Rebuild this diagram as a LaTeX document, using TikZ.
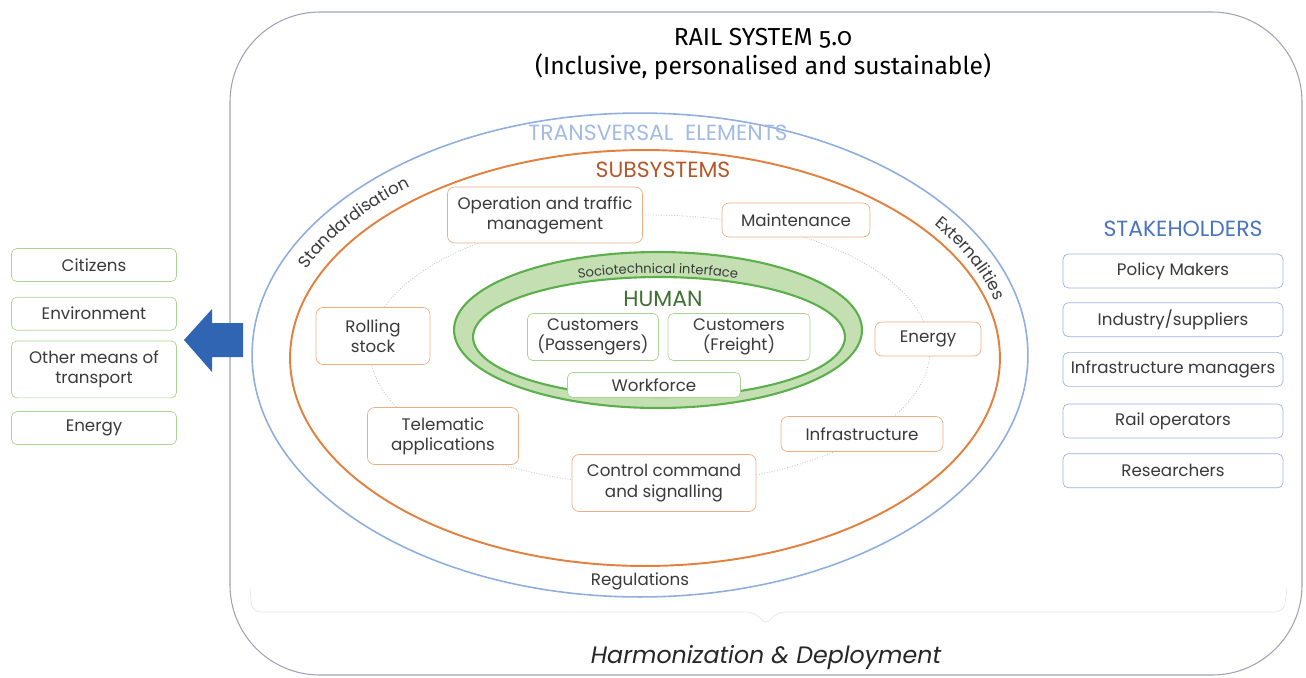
\documentclass[tikz,border=0pt]{standalone}
\usepackage{fontspec}
\setmainfont{Poppins}
\newfontfamily\titlefont[Numbers=OldStyle]{Fira Sans}
\usetikzlibrary{positioning,decorations.text}

\definecolor{subOrange}{HTML}{E2803F}
\definecolor{subBoxOrange}{HTML}{EDAE84}
\definecolor{subTitle}{HTML}{B3582C}
\definecolor{transBlue}{HTML}{8FAEDD}
\definecolor{transText}{HTML}{A3BBE3}
\definecolor{stakeBlue}{HTML}{4A74C2}
\definecolor{stakeBox}{HTML}{9DB1DF}
\definecolor{humGreen}{HTML}{5DAF4E}
\definecolor{humBand}{HTML}{C4E0B3}
\definecolor{humText}{HTML}{3F6F33}
\definecolor{humBox}{HTML}{ACD396}
\definecolor{arrowBlue}{HTML}{2F65B2}
\definecolor{frameGray}{HTML}{A0A2B5}
\definecolor{txtGray}{HTML}{3A3A3A}

\newcommand{\boxfont}{\fontsize{9.5}{11.5}\selectfont}
\newcommand{\headfont}{\fontsize{12.5}{14}\selectfont}

\tikzstyle{subNode} = [rectangle, rounded corners=4pt, draw=subBoxOrange, fill=white, text=txtGray, align=center, font=\boxfont, inner sep=1pt]
\tikzstyle{humNode} = [rectangle, rounded corners=3pt, draw=humBox, fill=white, text=txtGray, align=center, font=\boxfont, inner sep=1pt]
\tikzstyle{extNode} = [rectangle, rounded corners=3pt, draw=humBox, fill=white, text=txtGray, align=center, font=\boxfont, minimum width=3.3cm, minimum height=0.66cm, inner sep=1pt]
\tikzstyle{stakeNode} = [rectangle, rounded corners=3pt, draw=stakeBox, fill=white, text=txtGray, align=center, font=\boxfont, minimum width=4.4cm, minimum height=0.68cm, inner sep=1pt]
\tikzstyle{arcLabel} = [font=\boxfont, text=txtGray]

\begin{document}
\begin{tikzpicture}[x=0.02cm, y=-0.02cm, node distance=0.3cm]
    \useasboundingbox (0,0) rectangle (1306,677);
    \draw [frameGray, line width=0.6pt, rounded corners=1.8cm] (230,12) rectangle (1302,675);
    \draw [gray!20, rounded corners=5pt] (250,588) -- (252,612) -- (756,612) -- (766,626) -- (776,612) -- (1284,612) -- (1287,588);

    \draw [transBlue, line width=0.9pt] (640,355) ellipse [x radius=7.76cm, y radius=4.84cm];
    \draw [subOrange, line width=1.1pt] (645,358) ellipse [x radius=7.1cm, y radius=4.16cm];
    \draw [gray!45, densely dotted, line width=0.5pt] (650,350) ellipse [x radius=5.6cm, y radius=2.7cm];
    \fill [humBand, even odd rule] (658,330) ellipse [x radius=4.08cm, y radius=1.56cm] (659,337) ellipse [x radius=3.72cm, y radius=1.2cm];
    \draw [humGreen, line width=1.2pt] (658,330) ellipse [x radius=4.08cm, y radius=1.56cm];
    \draw [humGreen, line width=1.2pt] (659,337) ellipse [x radius=3.72cm, y radius=1.2cm];

    \node (title)[align=center, font=\titlefont\fontsize{14}{16}\selectfont, text=black] at (763,54) {RAIL SYSTEM 5.0\\(Inclusive, personalised and sustainable)};
    \node (transversal)[font=\headfont, text=transText] at (658,133) {TRANSVERSAL\ \ ELEMENTS};
    \node (subsystems)[font=\headfont, text=subTitle] at (663,170) {SUBSYSTEMS};
    \node (human)[font=\headfont, text=humText] at (663,299) {HUMAN};
    \path [decorate, decoration={text along path, text align=center, text={|\fontsize{7.5}{8}\selectfont\color{txtGray}|Sociotechnical interface}}]
        (658,342) ++(120:3.9cm and 1.38cm) arc [start angle=120, end angle=60, x radius=3.9cm, y radius=1.38cm];
    \path [decorate, decoration={text along path, text align=center, text={|\boxfont\color{txtGray}|Standardisation}}]
        (642,356) ++(164:7.3cm and 4.38cm) arc [start angle=164, end angle=124, x radius=7.3cm, y radius=4.38cm];
    \path [decorate, decoration={text along path, text align=center, text={|\boxfont\color{txtGray}|Externalities}}]
        (642,356) ++(42:7.3cm and 4.38cm) arc [start angle=42, end angle=8, x radius=7.3cm, y radius=4.38cm];
    \node (regul)[arcLabel] at (640,581) {Regulations};

    \node (operation)[subNode, minimum width=3.9cm, minimum height=1.12cm] at (545,215) {Operation and traffic\\management};
    \node (maintenance)[subNode, minimum width=2.96cm, minimum height=0.68cm] at (796,220) {Maintenance};
    \node (rolling)[subNode, minimum width=2.28cm, minimum height=1.14cm] at (373,336) {Rolling\\stock};
    \node (energyS)[subNode, minimum width=2.12cm, minimum height=0.68cm] at (928,339) {Energy};
    \node (telematic)[subNode, minimum width=3.02cm, minimum height=1.14cm] at (443,436) {Telematic\\applications};
    \node (infra)[subNode, minimum width=3.24cm, minimum height=0.7cm] at (862,434) {Infrastructure};
    \node (ccs)[subNode, minimum width=3.68cm, minimum height=1.14cm] at (664,483) {Control command\\and signalling};

    \node (passengers)[humNode, minimum width=2.62cm, minimum height=0.94cm] at (593,337) {Customers\\(Passengers)};
    \node (freight)[humNode, minimum width=2.84cm, minimum height=0.94cm] at (739,337) {Customers\\(Freight)};
    \node (workforce)[humNode, minimum width=3.46cm, minimum height=0.5cm] at (654,385) {Workforce};

    \node (citizens)[extNode] at (94,265) {Citizens};
    \node (environment)[extNode, below=of citizens] {Environment};
    \node (othermeans)[extNode, below=0.2cm of environment, minimum height=1.14cm] {Other means of\\transport};
    \node (energyE)[extNode, below=0.26cm of othermeans] {Energy};

    \fill [arrowBlue] (243,323) -- (212,323) -- (212,309) -- (184,340) -- (212,372) -- (212,357) -- (243,357) -- cycle;

    \node (stakeholders)[font=\headfont, text=stakeBlue] at (1183,229) {STAKEHOLDERS};
    \node (policy)[stakeNode] at (1173,271) {Policy Makers};
    \node (industry)[stakeNode, below=0.28cm of policy] {Industry/suppliers};
    \node (inframan)[stakeNode, below=of industry] {Infrastructure managers};
    \node (railop)[stakeNode, below=0.34cm of inframan] {Rail operators};
    \node (research)[stakeNode, below=of railop] {Researchers};

    \node (harmon)[font=\fontsize{13.5}{16}\selectfont\itshape, text=black!85] at (766,658) {Harmonization \& Deployment};

  \end{tikzpicture}
\end{document}
